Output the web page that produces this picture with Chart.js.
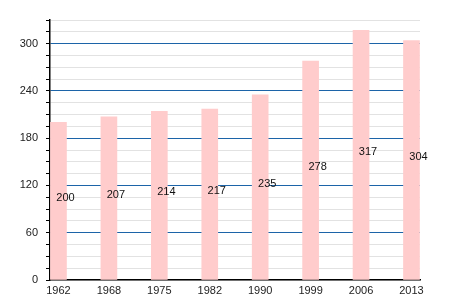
<!DOCTYPE html>
<html><head><meta charset="utf-8">
<script src="https://cdn.jsdelivr.net/npm/chart.js@4/dist/chart.umd.min.js"></script>
<style>html,body{margin:0;padding:0;background:#fff}#w{width:450px;height:300px}</style>
</head><body><div id="w"><canvas id="c" width="450" height="300"></canvas></div>
<script>
const years = ['1962','1968','1975','1982','1990','1999','2006','2013'];
const population = [200,207,214,217,235,278,317,304];
const yMax = 330;
const yStep = 15;
const yLabelStep = 60;

const points = population.map((v,i)=>({x:i,y:v}));

const valueLabels = {
  id:'valueLabels',
  afterDatasetsDraw(chart){
    const ctx = chart.ctx;
    const meta = chart.getDatasetMeta(0);
    ctx.save();
    ctx.font = '11px "Liberation Sans", Arial, sans-serif';
    ctx.fillStyle = '#111';
    ctx.textAlign = 'center';
    ctx.textBaseline = 'middle';
    meta.data.forEach((bar,i)=>{
      const midY = (bar.y + bar.base)/2;
      ctx.fillText(String(population[i]), bar.x + 7, midY - 3);
    });
    ctx.restore();
  }
};

new Chart(document.getElementById('c'), {
  type:'bar',
  data:{datasets:[{data:points, backgroundColor:'#ffcccc', borderWidth:0, barThickness:16}]},
  options:{
    responsive:false, animation:false,
    layout:{padding:{top:20,right:30,left:0,bottom:0}},
    plugins:{legend:{display:false}, tooltip:{enabled:false}},
    scales:{
      x:{type:'linear', min:-0.168, max:7.169, offset:false,
        afterFit(s){s.height=20;},
        grid:{display:false, drawTicks:false, offset:false},
        border:{display:true,color:'#000',width:1.5},
        afterBuildTicks(s){s.ticks = years.map((y,i)=>({value:i}));},
        ticks:{autoSkip:false, padding:4, color:'#222', font:{size:11,family:'"Liberation Sans", Arial, sans-serif'},
          callback:(v)=>years[v]}
      },
      y:{min:0, max:yMax,
        afterFit(s){s.width=50;},
        border:{display:true,color:'#000',width:1.5},
        grid:{
          color:(c)=> (c.tick && c.tick.value % yLabelStep === 0 && c.tick.value>0) ? '#1c64a8' : '#e2e2e2',
          lineWidth:1, tickLength:4, tickColor:'#000', drawOnChartArea:true
        },
        ticks:{stepSize:yStep, autoSkip:false, padding:8, color:'#222', font:{size:11,family:'"Liberation Sans", Arial, sans-serif'},
          callback:(v)=> v % yLabelStep === 0 ? String(v) : ''}
      }
    }
  },
  plugins:[valueLabels]
});
</script></body></html>
